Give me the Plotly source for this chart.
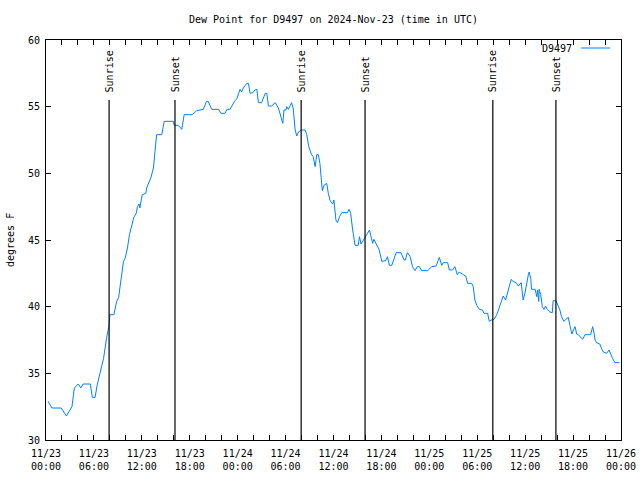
import plotly.graph_objects as go

# hours since 2024-11-23 00:00 UTC
hours = [0.25, 0.75, 1.9, 2.55, 3.25, 3.55, 4.05, 4.35, 4.65, 5.55, 5.8, 6.15, 6.4, 6.75, 7.2, 7.6, 7.9, 8.0, 8.5, 8.85,
         9.1, 9.25, 9.5, 9.7, 9.9, 10.2, 10.45, 10.75, 11.0, 11.3, 11.45, 11.65, 11.75, 12.05, 12.5, 12.6, 12.9, 13.15, 13.45,
         13.65, 13.85, 14.5, 14.8, 15.95, 16.05, 16.55, 17.0, 17.3, 18.35, 18.85, 19.7, 20.1, 20.3, 20.75, 21.6, 21.9, 22.4,
         22.65, 23.05, 23.6, 23.9, 24.3, 24.5, 24.7, 25.15, 25.35, 25.55, 25.9, 26.15, 26.4, 26.6, 27.0, 27.45, 27.65, 27.85,
         28.25, 28.7, 29.1, 29.5, 29.65, 29.8, 30.05, 30.15, 30.35, 30.75, 30.95, 31.2, 31.4, 31.6, 32.0, 32.45, 32.65, 32.9,
         33.25, 33.45, 33.7, 33.9, 34.1, 34.3, 34.5, 34.6, 34.8, 35.15, 35.35, 35.55, 35.8, 35.9, 36.05, 36.3, 36.5, 36.75,
         37.05, 37.75, 37.95, 38.15, 38.4, 38.7, 39.1, 39.25, 39.45, 39.75, 40.15, 40.5, 40.7, 40.9, 41.05, 41.4, 41.7, 42.05,
         42.55, 42.75, 43.0, 43.3, 43.85, 44.45, 44.85, 45.0, 45.25, 45.6, 45.9, 46.2, 46.5, 46.75, 47.05, 47.8, 48.3, 48.85,
         49.25, 49.55, 49.75, 50.3, 50.5, 50.9, 51.2, 51.5, 51.75, 52.25, 52.55, 52.8, 53.3, 53.5, 53.7, 53.95, 54.25, 54.65,
         54.85, 55.3, 55.5, 55.8, 56.1, 56.45, 56.75, 57.05, 57.25, 57.55, 57.9, 58.25, 58.45, 58.85, 59.15, 59.35, 59.5, 59.65,
         59.75, 60.0, 60.1, 60.25, 60.4, 60.5, 60.7, 60.8, 61.25, 61.45, 61.55, 61.7, 61.75, 61.95, 62.15, 62.35, 62.55, 62.75,
         63.1, 63.4, 63.5, 63.85, 64.15, 64.35, 64.55, 64.85, 65.1, 65.4, 65.6, 65.85, 66.05, 66.25, 66.45, 66.65, 67.2, 67.5,
         68.2, 68.45, 68.6, 68.75, 68.95, 69.35, 69.6, 69.8, 70.2, 70.5, 70.75, 70.95, 71.25, 71.8]

dew_point = [32.9, 32.4, 32.4, 31.8, 32.5, 33.9, 34.2, 33.9, 34.2, 34.2, 33.2, 33.2, 34.1, 35.0, 36.1, 37.7, 38.6, 39.4, 39.4, 40.4,
             40.7, 41.4, 42.4, 43.4, 43.6, 44.4, 45.4, 46.1, 46.7, 47.0, 47.5, 47.7, 47.4, 48.4, 48.5, 48.9, 49.4, 49.7, 50.4,
             51.6, 52.9, 52.9, 53.9, 53.9, 53.6, 53.6, 53.3, 54.4, 54.4, 54.7, 54.8, 55.4, 55.4, 54.8, 54.8, 54.5, 54.5,
             54.8, 54.8, 55.4, 55.6, 56.3, 56.1, 56.4, 56.75, 56.75, 56.0, 56.05, 56.25, 56.3, 55.3, 55.3, 56.0, 56.0, 55.05,
             55.05, 55.3, 54.9, 54.1, 53.75, 54.75, 54.75, 55.0, 54.8, 55.3, 54.9, 53.25, 52.8, 53.1, 53.25, 53.25, 52.9, 52.0,
             51.4, 51.25, 50.5, 51.4, 51.4, 50.75, 49.25, 48.7, 49.1, 49.25, 48.5, 48.0, 47.75, 47.7, 48.0, 46.5, 46.3, 46.75,
             47.05, 47.05, 47.3, 47.0, 45.75, 44.6, 44.6, 45.25, 44.7, 45.05, 45.4, 45.75, 45.25, 44.75, 45.05, 44.6, 44.3, 43.4,
             43.45, 43.75, 43.1, 43.1, 44.05, 44.05, 43.5, 43.5, 44.05, 43.75, 43.0, 42.7, 43.0, 43.0, 42.7, 42.7, 43.0, 43.05,
             43.7, 43.1, 43.3, 43.3, 42.75, 42.75, 43.0, 42.4, 42.6, 42.4, 42.3, 41.75, 41.75, 41.5, 40.5, 40.1, 39.8, 39.75,
             39.5, 39.5, 38.9, 39.0, 39.05, 39.4, 39.9, 40.5, 40.8, 40.5, 41.4, 42.05, 41.9, 41.8, 41.55, 41.7, 41.8, 41.0,
             40.5, 41.1, 41.5, 41.75, 42.4, 42.6, 42.1, 41.3, 41.3, 40.75, 41.25, 40.4, 41.3, 40.9, 40.0, 39.8, 40.05, 39.8,
             39.6, 39.55, 40.45, 40.45, 40.1, 39.75, 39.25, 38.9, 39.05, 39.2, 38.6, 37.95, 38.25, 38.5, 37.95, 37.9, 37.55, 37.9,
             37.9, 38.5, 38.1, 37.5, 37.3, 37.2, 36.8, 36.6, 36.5, 36.75, 36.4, 36.1, 35.8, 35.8]

sun_events = [7.9, 16.15, 31.95, 39.95, 55.95, 63.85]
sun_labels = ["Sunrise", "Sunset", "Sunrise", "Sunset", "Sunrise", "Sunset"]

tick_hours = list(range(0, 73, 2))
major_labels = {0: "11/23<br>00:00", 6: "11/23<br>06:00", 12: "11/23<br>12:00", 18: "11/23<br>18:00",
                24: "11/24<br>00:00", 30: "11/24<br>06:00", 36: "11/24<br>12:00", 42: "11/24<br>18:00",
                48: "11/25<br>00:00", 54: "11/25<br>06:00", 60: "11/25<br>12:00", 66: "11/25<br>18:00",
                72: "11/26<br>00:00"}
tick_text = [major_labels.get(h, "") for h in tick_hours]

FONT = "DejaVu Sans Mono"
BLUE = "#0080ff"
L, R, T, B = 46, 19, 40, 40
PW, PH = 640 - L - R, 480 - T - B

fig = go.Figure()
fig.add_trace(go.Scatter(x=hours, y=dew_point, mode="lines", name="D9497",
                         line=dict(color=BLUE, width=1), showlegend=False))

shapes = []
annotations = []
for h, lab in zip(sun_events, sun_labels):
    shapes.append(dict(type="line", xref="x", yref="y", x0=h, x1=h, y0=30, y1=55.5,
                       line=dict(color="black", width=1.2)))
    annotations.append(dict(x=h, y=56.0, xref="x", yref="y", text=lab, textangle=-90,
                            showarrow=False, xanchor="center", yanchor="bottom", yshift=-1,
                            font=dict(family=FONT, size=10, color="black")))

# legend key (text then line sample, as in reference)
annotations.append(dict(x=(574 - L) / PW, y=1 - 8 / PH, xref="paper", yref="paper", text="D9497",
                        showarrow=False, xanchor="right", yanchor="middle",
                        font=dict(family=FONT, size=10, color="black")))
shapes.append(dict(type="line", xref="paper", yref="paper", x0=(581 - L) / PW, x1=(610 - L) / PW,
                   y0=1 - 8 / PH, y1=1 - 8 / PH, line=dict(color=BLUE, width=1)))

annotations.append(dict(x=0.5, y=1, xref="paper", yref="paper", yshift=21,
                        text="Dew Point for D9497 on 2024-Nov-23 (time in UTC)", showarrow=False,
                        xanchor="center", yanchor="middle", font=dict(family=FONT, size=10, color="black")))
annotations.append(dict(x=(10 - L) / PW, y=0.5, xref="paper", yref="paper", text="degrees F",
                        textangle=-90, showarrow=False, xanchor="center", yanchor="middle",
                        font=dict(family=FONT, size=10, color="black")))

fig.update_layout(
    width=640, height=480,
    margin=dict(l=L, r=R, t=T, b=B, autoexpand=False),
    paper_bgcolor="white", plot_bgcolor="white",
    font=dict(family=FONT, size=10, color="black"),
    shapes=shapes, annotations=annotations,
    showlegend=False,
)
fig.update_xaxes(range=[0, 72], tickmode="array", tickvals=tick_hours, ticktext=tick_text,
                 ticks="inside", ticklen=5, tickcolor="black", showline=True, linecolor="black",
                 linewidth=1, mirror="ticks", showgrid=False, zeroline=False, automargin=False,
                 ticklabelstandoff=4, tickfont=dict(family=FONT, size=10))
fig.update_yaxes(range=[30, 60], tickmode="linear", tick0=30, dtick=5,
                 ticks="inside", ticklen=5, tickcolor="black", showline=True, linecolor="black",
                 linewidth=1, mirror="ticks", showgrid=False, zeroline=False, automargin=False,
                 ticklabelstandoff=3, tickfont=dict(family=FONT, size=10))

fig.write_html("out.html")
